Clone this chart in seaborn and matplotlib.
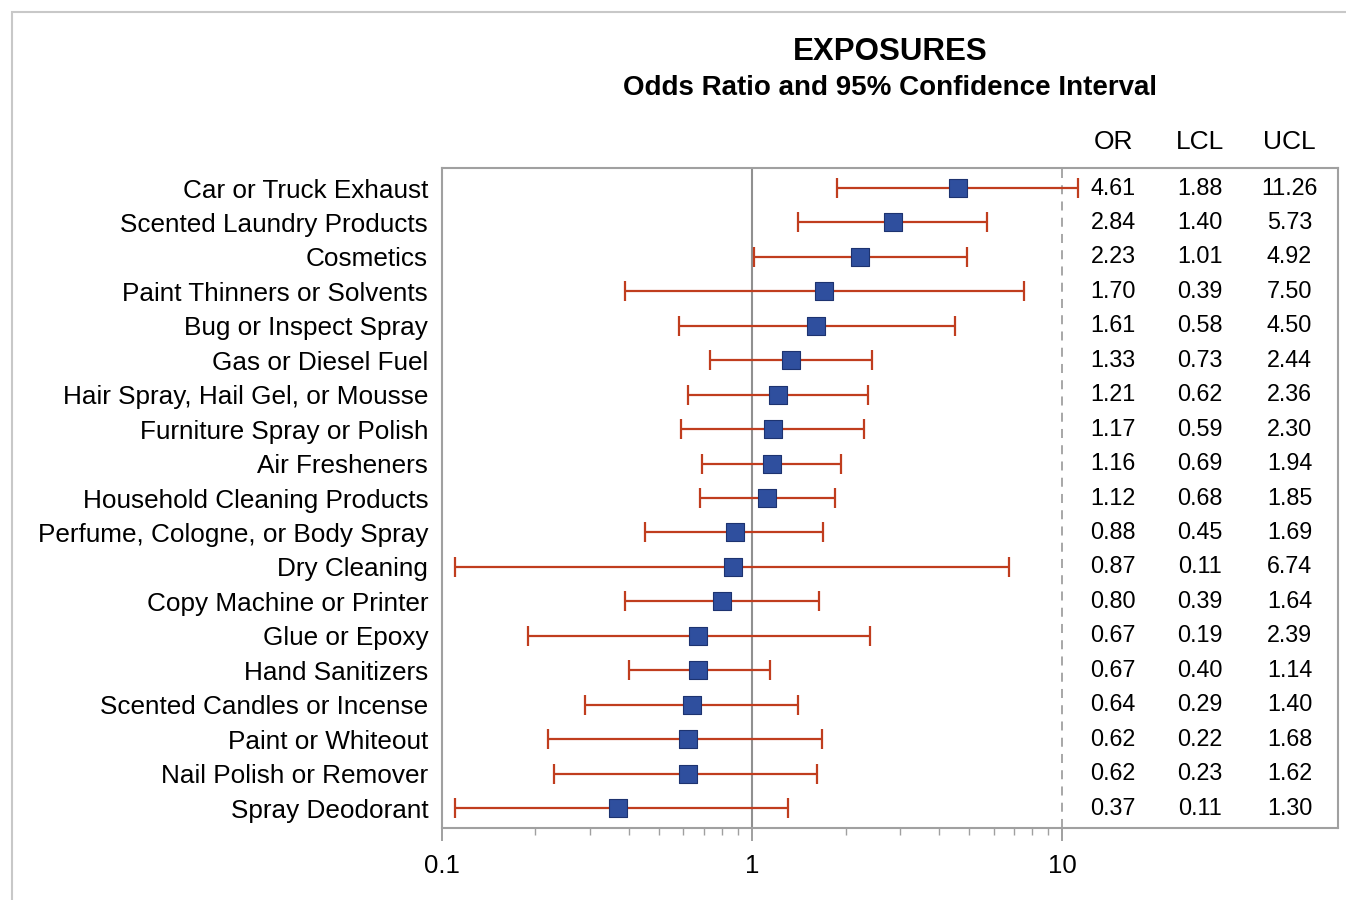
import numpy as np
import pandas as pd
import seaborn as sns
import matplotlib.pyplot as plt
from matplotlib.ticker import FixedLocator, NullFormatter
import matplotlib.transforms as mtransforms
from matplotlib.patches import Rectangle

exposures = ["Car or Truck Exhaust", "Scented Laundry Products", "Cosmetics",
             "Paint Thinners or Solvents", "Bug or Inspect Spray", "Gas or Diesel Fuel",
             "Hair Spray, Hail Gel, or Mousse", "Furniture Spray or Polish",
             "Air Fresheners", "Household Cleaning Products",
             "Perfume, Cologne, or Body Spray", "Dry Cleaning",
             "Copy Machine or Printer", "Glue or Epoxy", "Hand Sanitizers",
             "Scented Candles or Incense", "Paint or Whiteout",
             "Nail Polish or Remover", "Spray Deodorant"]
odds_ratio = [4.61, 2.84, 2.23, 1.70, 1.61, 1.33, 1.21, 1.17, 1.16, 1.12,
              0.88, 0.87, 0.80, 0.67, 0.67, 0.64, 0.62, 0.62, 0.37]
lcl = [1.88, 1.40, 1.01, 0.39, 0.58, 0.73, 0.62, 0.59, 0.69, 0.68,
       0.45, 0.11, 0.39, 0.19, 0.40, 0.29, 0.22, 0.23, 0.11]
ucl = [11.26, 5.73, 4.92, 7.50, 4.50, 2.44, 2.36, 2.30, 1.94, 1.85,
       1.69, 6.74, 1.64, 2.39, 1.14, 1.40, 1.68, 1.62, 1.30]

df = pd.DataFrame({"Exposure": exposures, "OR": odds_ratio, "LCL": lcl, "UCL": ucl})
df["pos"] = np.arange(len(df))

sns.set_style("white")
plt.rcParams["font.family"] = ["Liberation Sans", "DejaVu Sans"]
plt.rcParams["text.color"] = "black"
plt.rcParams["xtick.labelcolor"] = "black"
plt.rcParams["ytick.labelcolor"] = "black"

fig = plt.figure(figsize=(13.46, 9), dpi=100)
ax = fig.add_axes([0.3284, 0.08, 0.6656, 0.7333])

# outer frame of the picture
fig.patches.append(Rectangle((12 / 1346, -0.1), 1.2, (888 / 900) + 0.1,
                             transform=fig.transFigure, fill=False,
                             edgecolor="#c8c8c8", linewidth=1.5))

ax.axvline(1, color="#909090", linewidth=1.5, zorder=1)
ax.axvline(10, color="#a0a0a0", linewidth=1.3, linestyle=(0, (5, 4)), zorder=1)

red = "#c03d1e"
ax.errorbar(df["OR"], df["pos"],
            xerr=[df["OR"] - df["LCL"], df["UCL"] - df["OR"]],
            fmt="none", ecolor=red, elinewidth=1.6, capsize=7.5, capthick=1.6, zorder=2)
sns.scatterplot(data=df, x="OR", y="pos", marker="s", s=150, color="#2f4f9e",
                edgecolor="#1d3370", linewidth=0.8, zorder=3, ax=ax, legend=False)

ax.set_xscale("log")
ax.set_xlim(0.1, 77.3)
ax.set_ylim(18.58, -0.58)

ax.set_yticks(df["pos"])
ax.set_yticklabels(df["Exposure"], fontsize=18.8)
ax.tick_params(axis="y", length=0, pad=10)

ax.xaxis.set_major_locator(FixedLocator([0.1, 1, 10]))
ax.set_xticklabels(["0.1", "1", "10"], fontsize=18.5)
minor = [k * 10.0 ** d for d in (-1, 0) for k in range(2, 10)]
ax.xaxis.set_minor_locator(FixedLocator(minor))
ax.xaxis.set_minor_formatter(NullFormatter())
ax.tick_params(axis="x", which="major", direction="out", length=9, width=1.2,
               color="#909090", bottom=True, pad=10)
ax.tick_params(axis="x", which="minor", direction="out", length=5, width=1.0,
               color="#a0a0a0", bottom=True)
ax.set_xlabel("")
ax.set_ylabel("")

for side in ["top", "left", "right", "bottom"]:
    ax.spines[side].set_color("#a0a0a0")
    ax.spines[side].set_linewidth(1.5)

# table of values
trans = mtransforms.blended_transform_factory(ax.transAxes, ax.transData)
cols = [("OR", odds_ratio, 0.749), ("LCL", lcl, 0.846), ("UCL", ucl, 0.946)]
for head, vals, xc in cols:
    ax.text(xc, -1.35, head, transform=trans, ha="center", va="center",
            fontsize=19, clip_on=False)
    for i, v in enumerate(vals):
        ax.text(xc, i, f"{v:.2f}", transform=trans, ha="center", va="center",
                fontsize=16.8)

fig.text(0.6612, 0.942, "EXPOSURES", ha="center", va="center",
         fontsize=22.5, fontweight="bold")
fig.text(0.6612, 0.902, "Odds Ratio and 95% Confidence Interval", ha="center",
         va="center", fontsize=20, fontweight="bold")

fig.savefig("out.png", dpi=100, facecolor="white")
